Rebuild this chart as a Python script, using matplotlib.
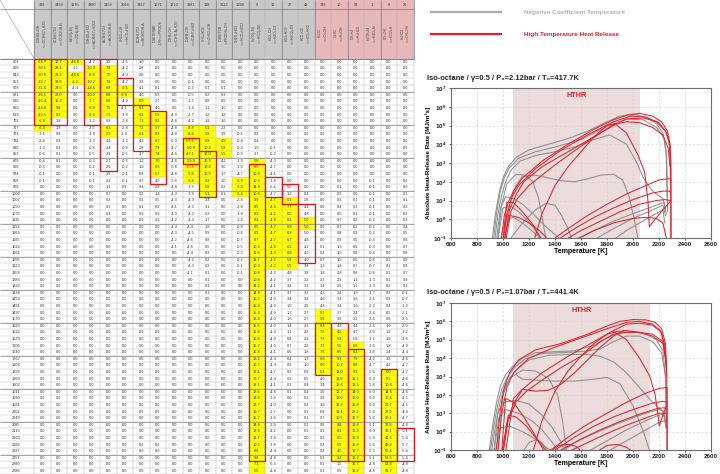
import numpy as np
import matplotlib
matplotlib.use("Agg")
import matplotlib.pyplot as plt
from matplotlib.patches import Rectangle
from matplotlib.ticker import FixedLocator, NullLocator, FuncFormatter

plt.rcParams['font.family'] = ['Liberation Sans', 'DejaVu Sans']
plt.rcParams['mathtext.fontset'] = 'custom'
plt.rcParams['mathtext.rm'] = 'Liberation Sans'
plt.rcParams['mathtext.bf'] = 'Liberation Sans:bold'

NROW = 63


def pad(vals, start=0):
    return [0.0] * start + vals + [0.0] * (NROW - start - len(vals))


# ---------------- sensitivity table ----------------
col_ids = ["339", "3459", "1176", "3390", "3458", "2068", "3457", "1071", "1213", "3381", "118",
           "3622", "1698", "9", "11", "27", "43", "339", "10", "34", "1", "8", "29"]
col_rxns = [("IC8H18+OH", "<=>CC8H17+H2O"), ("CC8H17O2", "<=>CC8OOH-B"), ("H2O2(+M)", "<=>2OH(+M)"),
            ("IC8H18+HO2", "<=>AC8H17+H2O2"), ("AC8H17O2", "<=>AC8OOH-B"), ("CH2O+OH", "<=>HCO+H2O"),
            ("BC8H17O2", "<=>BC8OOH-A"), ("IC8ETERAB", "+OH<=>PRODS"), ("C3H6+OH", "<=>C3H5-A+H2O"),
            ("IC4H8+OH", "<=>IC4H7+H2O"), ("CH3+HO2", "<=>CH3O+OH"), ("IC8KETCB", "=>PRODS+OH"),
            ("CH2O+HO2", "<=>HCO+H2O2"), ("H+O2(+M)", "<=>HO2(+M)"), ("HO2+OH", "<=>H2O+O2"),
            ("HO2+HO2", "<=>H2O2+O2"), ("HCO+O2", "<=>CO+HO2"), ("H+O2", "<=>O+OH"),
            ("O+H2", "<=>H+OH"), ("OH+H2", "<=>H+H2O"), ("H+OH+M", "<=>H2O+M"),
            ("CO+OH", "<=>CO2+H"), ("H+HO2", "<=>OH+OH")]
row_temps = [601, 628, 642, 651, 678, 681, 686, 693, 699, 703, 717, 761, 782, 830, 851, 879, 906, 934,
             958, 979, 1000, 1007, 1050, 1076, 1115, 1152, 1166, 1195, 1222, 1261, 1295, 1323, 1358,
             1383, 1422, 1446, 1453, 1491, 1497, 1570, 1583, 1622, 1670, 1706, 1740, 1767, 1808, 1834,
             1860, 1903, 1911, 1930, 1981, 2002, 2049, 2085, 2116, 2160, 2189, 2227, 2251, 2280, 2286]

v339 = pad([-63.7, -36.5, -30.8, -33.7, -31.6, -26.1, -46.4, -44.6, -43.5, -6.8, -6.3, -3.1, -2.4, -1.3,
            -0.8, -0.4, -0.3, -0.1, -0.1])
v3459 = pad([12.7, 28.1, 23.3, 39.6, 24.5, 22.0, 15.2, 9.8, 8.2, 1.8, 1.8, 0.8, 0.3, 0.2, 0.1, 0.1])
v1176 = pad([-46.8, 1.1, -44.6, -4.2, -4.4])
v3390 = pad([-4.2, -10.3, -8.8, -10.2, -18.6, -10.0, -7.7, -6.9, -8.4, -3.2, -2.5, -1.8, -1.3, -0.8,
             -0.5, -0.3, -0.2, -0.1, -0.1])
v3458 = pad([3.2, 7.8, 7.0, 7.8, 8.8, 8.8, 8.8, 7.5, 7.3, 6.8, 6.3, 5.1, 4.4, 3.4, 3.9, 2.7, 2.6, 2.3,
             2.1, 1.1, 0.7, 0.2, 0.1, 0.1])
v2068 = pad([-1.5, -4.2, -4.0, -4.7, -6.5, -6.6, -4.9, -4.1, -3.8, -2.4, -2.8, -1.4, -1.2, -0.8, -0.5,
             -0.3, -0.2, -0.1, -0.1, 0.1])
v3457 = pad([1.0, 2.8, 2.8, 3.3, 4.1, 4.6, 6.9, 6.1, 8.2, 7.1, 7.2, 6.1, 4.8, 2.8, 1.7, 1.2, 1.8, 0.8,
             0.7, 0.4, 0.2, 0.1, 0.1, 0.1])
v1071 = pad([0.1, 0.3, 2.7, 4.6, 5.9, 8.2, 9.7, 9.3, 8.7, 7.9, 7.4, 7.0, 6.6, 5.7, 4.2, 2.3, 1.4, 0.5,
             0.2, 0.1, 0.1], 4)
v1213 = pad([-4.3, -4.8, -4.8, -4.8, -6.0, -4.7, -4.6, -4.6, -6.8, -4.8, -3.8, -4.8, -4.3, -4.3, -4.1,
             -4.3, -4.2, -4.4, -4.3, -4.2, -4.1], 8)
v3381 = pad([-0.1, -0.2, -0.5, -1.5, -3.4, -2.7, -4.2, -8.8, -8.4, -63.1, -50.8, -47.1, -59.9, -13.5,
             -9.8, -9.8, -3.9, -1.9, -4.3, -4.3, -4.3, -4.3, -4.4, -4.5, -4.6, -4.6, -4.4, -4.2, -4.3,
             -4.1], 3)
v118 = pad([0.1, 0.2, 0.8, 1.1, 1.2, 1.8, 5.1, 5.8, 6.8, 10.2, 12.0, 12.3, 19.8, 10.9, 8.3, 5.8, 5.1,
            3.4, 3.1, 2.3, 1.7, 1.8, 0.9, 0.8, 0.5, 0.3, 0.2, 0.2, 0.1, 0.1, 0.1, 0.1], 4)
v3622 = pad([0.1, 0.3, 0.6, 1.0, 1.2, 1.6, 2.2, 3.9, 4.9, 5.9, 5.5, 4.2, 3.0, 1.7, 1.0, 0.2, 0.1], 4)
v1698 = pad([-0.1, -0.4, -0.4, -0.9, -1.9, -3.8, -4.7, -6.8, -6.3, -6.6, -2.8, -2.8, -1.8, -1.2, -0.8,
             -0.8, -0.7, -0.5, -0.3, -0.2, -0.1, -0.1], 11)
v9 = pad([0.2, 0.4, 1.9, 3.7, 5.6, 8.5, 10.8, 10.3, 14.8, 10.8, 9.9, 8.5, 8.2, 8.4, 8.5, 8.9, 9.7, 10.2,
          11.6, 11.7, 10.3, 10.8, 10.8, 14.2, 14.8, 15.2, 15.4, 15.4, 15.4, 15.5, 15.8, 15.8, 15.7,
          15.8, 16.2, 16.7, 17.1, 17.7, 18.1, 18.6, 18.8, 18.7, 16.7, 15.7, 14.6, 13.6, 11.7, 10.2,
          8.8, 8.8, 7.1, 5.5], 11)
v11 = pad([-0.1, -0.3, -4.3, -4.7, -4.1, -3.4, -6.1, -4.7, -4.7, -4.6, -4.2, -4.8, -4.7, -4.7, -4.7,
           -4.8, -4.3, -4.2, -4.2, -4.2, -4.2, -4.1, -4.1, -4.0, -4.0, -4.0, -4.0, -4.0, -4.0, -4.0,
           -4.0, -4.1, -4.4, -4.4, -4.7, -4.4, -4.1, -4.6, -3.6, -4.0, -2.7, -3.8, -3.9, -4.2, -3.4,
           -3.8, -4.4, -4.8, -6.3, -4.8], 13)
v27 = pad([1.2, 6.1, 7.7, 6.5, 6.1, 6.8, 6.8, 6.7, 6.2, 6.8, 5.8, 5.5, 4.8, 3.7, 3.4, 3.3, 3.4, 1.9, 1.7,
           1.6, 1.4, 1.1, 0.8, 0.7, 0.6, 0.4, 0.3, 0.2, 0.2, 0.1, 0.1], 20)
v43 = pad([0.4, 3.8, 4.4, 4.8, 5.0, 5.0, 5.0, 4.8, 4.2, 4.2, 4.0, 3.8, 3.8, 3.2, 3.1, 3.2, 3.1, 2.9, 2.7,
           2.7, 2.3, 2.2, 2.1, 2.0, 1.8, 1.3, 1.0, 0.9, 0.5, 0.4, 0.4, 0.3, 0.2, 0.1, 0.1, 0.1, 0.1], 20)
v339h = pad([0.1, 0.2, 0.7, 1.3, 1.8, 3.3, 3.4, 4.3, 4.6, 4.8, 5.2, 5.8, 6.4, 7.6, 7.2, 7.3, 7.6, 6.6,
             6.6, 5.3, 4.6, 3.4, 3.0, 2.9, 1.8, 0.9, 0.7, 0.6, 0.3, 0.3, 0.2, 0.2, 0.1, 0.1, 0.1], 28)
v10 = pad([0.1, 0.2, 0.3, 0.4, 0.5, 0.7, 0.7, 0.8, 0.9, 1.3, 1.3, 1.5, 1.8, 1.8, 2.2, 2.6, 2.4, 3.3, 3.4,
           3.7, 3.9, 4.2, 4.5, 5.3, 5.5, 8.5, 9.3, 10.2, 11.0, 11.9, 12.6, 12.7, 13.0, 12.2, 11.4, 10.5,
           8.8, 8.1, 6.5, 5.5, 4.5, 3.2, 1.5, 0.9], 19)
v34 = pad([0.1, 0.1, 0.1, 0.2, 0.2, 0.3, 0.5, 0.6, 0.8, 0.6, 0.7, 0.8, 1.1, 1.1, 1.3, 1.6, 1.6, 2.4, 3.2,
           4.4, 4.7, 5.9, 6.8, 6.4, 7.9, 8.8, 9.3, 11.1, 13.1, 14.0, 15.0, 15.8, 20.2, 20.7, 18.8, 16.9,
           16.9, 15.8, 16.7, 16.2, 15.7, 15.2], 21)
v1 = pad([-0.1, -0.1, -0.1, -0.1, -0.1, -0.1, -0.2, -0.2, -0.2, -0.3, -0.3, -0.4, -0.8, -0.7, -0.8, -1.3,
          -1.3, -1.7, -2.1, -2.3, -2.4, -2.6, -2.8, -2.9, -3.2, -3.6, -3.8, -4.2, -4.7, -5.6, -6.3,
          -5.8, -6.0, -6.0, -6.0, -5.8, -5.8, -6.1, -6.0, -5.8, -5.6, -5.3, -5.1, -4.8, -4.8], 18)
v8 = pad([0.1, 0.1, 0.1, 0.1, 0.2, 0.2, 0.3, 0.4, 0.5, 0.8, 1.0, 1.2, 1.8, 1.8, 2.4, 3.2, 4.2, 6.0, 8.1,
          10.8, 14.6, 17.4, 20.7, 27.9, 30.1, 32.8, 30.1, 41.5, 48.8, 50.4, 52.3, 54.4, 56.7], 30)
v29 = pad([0.1, 0.1, 0.2, 0.2, 0.3, 0.4, 0.5, 0.6, 0.7, 0.8, 0.9, 0.9, 0.7, 0.4, 0.1, -0.1, -0.7, -1.2,
           -2.1, -2.6, -2.9, -3.2, -3.6, -4.0, -4.4, -4.6, -4.7, -4.7, -4.6, -4.6, -4.6, -4.5, -4.5,
           -4.6, -4.7, -4.8, -5.1, -5.4, -5.7, -5.4, -5.4, -4.9, -4.8], 20)

table_cols = [v339, v3459, v1176, v3390, v3458, v2068, v3457, v1071, v1213, v3381, v118, v3622, v1698,
              v9, v11, v27, v43, v339h, v10, v34, v1, v8, v29]

# highlighted cells (column, first row, last row)
yellow_cells = [(0, 0, 10), (1, 0, 8), (2, 0, 0), (2, 2, 3), (3, 1, 8), (4, 1, 8), (4, 10, 11),
                (5, 4, 5), (6, 6, 11), (7, 8, 17), (9, 10, 18), (10, 10, 20), (11, 12, 14),
                (12, 18, 20), (13, 15, 62), (14, 21, 31), (15, 21, 31), (16, 24, 25), (17, 38, 47),
                (18, 41, 60), (19, 43, 62), (21, 47, 62)]
red_boxes = [(0, 0, 9), (1, 0, 9), (3, 0, 9), (4, 0, 16), (5, 3, 6), (6, 7, 13), (7, 8, 18),
             (9, 12, 15), (10, 14, 20), (13, 16, 60), (14, 18, 20), (15, 19, 21), (16, 22, 30),
             (17, 40, 47), (18, 40, 60), (19, 44, 60), (21, 47, 60), (22, 56, 60)]

# ---------------- heat-release curves (T [K], log10 HRR) ----------------
top_gray = [
    ([915, 940, 970, 1000, 1040, 1100, 1200, 1350, 1500, 1650, 1800, 1900, 2000, 2100, 2180, 2230, 2255, 2265],
     [-1.2, 0.2, 1.4, 2.2, 2.8, 3.3, 3.7, 4.0, 4.3, 4.7, 5.2, 5.5, 5.6, 5.45, 5.1, 4.6, 3.6, 0.6]),
    ([925, 950, 980, 1010, 1050, 1120, 1250, 1400, 1600, 1800, 1950, 2080, 2180, 2240, 2260, 2266],
     [-1.2, 0.3, 1.5, 2.2, 2.75, 3.25, 3.6, 3.85, 4.25, 4.95, 5.35, 5.3, 4.9, 4.3, 3.2, 0.4]),
    ([935, 960, 990, 1020, 1060, 1130, 1250, 1400, 1550, 1700, 1820, 1950, 2030, 2080, 2150, 2230, 2250],
     [-1.2, 0.2, 1.3, 2.0, 2.6, 3.1, 3.4, 3.6, 3.85, 4.25, 4.5, 4.0, 3.0, 2.2, 1.5, 1.1, 0.5]),
    ([1000, 1050, 1100, 1150, 1250, 1350, 1450, 1550, 1650, 1750, 1850, 1920, 1970, 2010, 2040],
     [-1.1, 0.8, 1.8, 2.3, 2.35, 2.2, 2.05, 2.0, 2.15, 2.35, 2.4, 2.1, 1.2, 0.0, -1.1]),
    ([960, 990, 1030, 1100, 1170, 1230, 1270, 1300, 1330],
     [-1.1, 0.8, 1.9, 2.4, 2.35, 2.0, 1.2, 0.2, -1.1]),
    ([950, 980, 1020, 1080, 1150, 1230, 1300, 1380, 1450],
     [-1.1, 0.6, 1.2, 1.1, 0.8, 0.3, -0.2, -0.7, -1.1]),
    ([960, 1000, 1060, 1120, 1180, 1240, 1290],
     [-1.1, 0.6, 0.7, 0.4, 0.0, -0.5, -1.1]),
    ([1050, 1150, 1250, 1330, 1400, 1450, 1500, 1530],
     [-1.1, -0.2, 0.5, 0.85, 0.75, 0.2, -0.5, -1.1]),
    ([980, 1020, 1080, 1150, 1220, 1300],
     [-1.1, 0.0, 0.1, -0.2, -0.6, -1.1]),
    ([1550, 1700, 1850, 2000, 2100, 2200, 2240, 2255],
     [-1.1, -0.6, -0.1, 0.3, 0.55, 0.8, 0.9, 0.3]),
    ([1700, 1850, 2000, 2150, 2230, 2250],
     [-1.1, -0.5, 0.05, 0.5, 0.75, 0.2]),
    ([1850, 1950, 2050, 2150, 2230, 2245],
     [-1.1, -0.6, -0.2, 0.2, 0.5, -0.2]),
]
top_red = [
    ([985, 1010, 1040, 1080, 1150, 1300, 1500, 1700, 1850, 1950, 2050, 2150, 2220, 2265, 2285, 2292, 2293],
     [-1.2, 0.2, 0.9, 1.5, 2.2, 3.1, 4.0, 4.8, 5.3, 5.55, 5.65, 5.5, 5.2, 4.7, 4.0, 3.0, -1.2]),
    ([1000, 1030, 1070, 1120, 1250, 1450, 1650, 1850, 1980, 2100, 2200, 2260, 2285, 2290],
     [-1.2, 0.3, 1.2, 1.8, 2.7, 3.7, 4.5, 5.2, 5.5, 5.45, 5.15, 4.6, 3.8, 2.0]),
    ([1010, 1050, 1100, 1160, 1300, 1500, 1700, 1850, 1950, 2080, 2180, 2250, 2280, 2290],
     [-1.2, 0.5, 1.3, 2.0, 2.8, 3.6, 4.4, 5.0, 5.35, 5.4, 5.2, 4.7, 4.1, 2.5]),
    ([1020, 1060, 1110, 1200, 1400, 1600, 1750, 1850, 1950, 2050, 2150, 2230, 2270, 2285],
     [-1.2, 0.4, 1.1, 1.8, 2.9, 3.9, 4.6, 5.05, 5.2, 5.15, 4.9, 4.5, 3.8, 2.8]),
    ([1240, 1300, 1400, 1500, 1600, 1700, 1800, 1860, 1950, 2040, 2090, 2115, 2125, 2170, 2230, 2280, 2292],
     [-1.1, 0.3, 1.8, 2.8, 3.6, 4.4, 5.0, 5.1, 4.6, 3.4, 2.5, 1.0, -0.4, 0.0, 0.5, 0.9, 1.0]),
    ([1380, 1500, 1650, 1800, 1950, 2100, 2200, 2260, 2290, 2291],
     [-1.1, -0.5, 0.2, 0.8, 1.35, 1.8, 2.1, 2.15, 2.15, -1.1]),
    ([1420, 1550, 1700, 1850, 2000, 2150, 2230, 2280, 2290],
     [-1.1, -0.5, 0.1, 0.6, 1.05, 1.4, 1.5, 1.5, 1.4]),
    ([1480, 1600, 1750, 1900, 2050, 2180, 2250, 2285],
     [-1.1, -0.6, -0.1, 0.4, 0.8, 1.0, 1.05, 1.0]),
    ([1560, 1700, 1850, 2000, 2100, 2180, 2230, 2260],
     [-1.1, -0.6, -0.2, 0.05, 0.1, 0.05, -0.2, -1.1]),
    ([1000, 1030, 1080, 1150, 1220, 1300],
     [-1.1, 0.9, 0.9, 0.4, -0.2, -1.1]),
    ([1010, 1050, 1120, 1200, 1280, 1350],
     [-1.1, 0.2, 0.1, -0.2, -0.6, -1.1]),
]
bot_gray = [
    ([890, 920, 950, 980, 1020, 1080, 1150, 1250, 1400, 1550, 1700, 1800, 1900, 2000, 2100, 2180, 2230, 2250, 2258],
     [-1.2, 0.3, 1.6, 2.5, 3.1, 3.6, 4.0, 4.3, 4.35, 4.4, 4.7, 5.1, 5.4, 5.45, 5.3, 5.0, 4.4, 3.0, 0.5]),
    ([900, 930, 960, 990, 1030, 1090, 1170, 1300, 1450, 1600, 1750, 1850, 1950, 2050, 2150, 2220, 2250, 2256],
     [-1.2, 0.3, 1.5, 2.3, 2.9, 3.5, 3.95, 4.25, 4.3, 4.35, 4.5, 4.9, 5.2, 5.2, 4.9, 4.3, 3.0, 0.8]),
    ([910, 940, 970, 1000, 1050, 1120, 1200, 1350, 1500, 1650, 1750, 1850, 1950, 2050, 2150, 2230, 2255],
     [-1.2, 0.2, 1.4, 2.2, 2.9, 3.5, 3.9, 4.15, 4.2, 4.2, 4.1, 3.8, 3.2, 2.4, 1.6, 1.1, 0.2]),
    ([960, 1000, 1050, 1150, 1250, 1350, 1420, 1460, 1490],
     [-1.1, 2.0, 2.9, 3.35, 3.3, 2.9, 2.0, 0.5, -1.1]),
    ([1100, 1150, 1250, 1400, 1550, 1700, 1800, 1900, 2000, 2080, 2130],
     [3.1, 2.85, 2.8, 2.75, 2.75, 2.85, 2.95, 2.6, 1.4, 0.0, -1.1]),
    ([930, 960, 1000, 1100, 1200, 1300, 1380, 1440, 1480],
     [-1.1, 1.0, 1.6, 1.7, 1.5, 0.9, 0.2, -0.5, -1.1]),
    ([930, 970, 1020, 1120, 1220, 1300, 1380, 1430],
     [-1.1, 0.8, 1.2, 1.0, 0.6, 0.1, -0.6, -1.1]),
    ([940, 980, 1050, 1150, 1250, 1320, 1380],
     [-1.1, 0.2, 0.3, 0.0, -0.4, -0.8, -1.1]),
    ([1150, 1200, 1260, 1300, 1350],
     [-1.1, -0.6, -0.4, -0.6, -1.1]),
    ([1650, 1800, 1950, 2100, 2200, 2240, 2255],
     [-1.1, -0.5, 0.1, 0.6, 0.9, 0.95, 0.2]),
    ([1800, 1950, 2100, 2200, 2245],
     [-1.1, -0.5, 0.1, 0.5, 0.6]),
    ([1450, 1550, 1700, 1850, 2000, 2120, 2200, 2240, 2255],
     [-1.1, -0.6, -0.1, 0.35, 0.75, 1.05, 1.2, 1.1, 0.3]),
]
bot_red = [
    ([945, 980, 1010, 1050, 1120, 1250, 1450, 1650, 1800, 1900, 2000, 2100, 2170, 2220, 2250, 2260, 2262],
     [-1.2, 1.2, 2.4, 3.2, 3.9, 4.45, 4.8, 5.3, 5.75, 6.0, 6.1, 6.08, 5.95, 5.6, 4.8, 3.0, -1.1]),
    ([960, 990, 1030, 1080, 1200, 1400, 1600, 1800, 1950, 2050, 2150, 2210, 2245, 2258],
     [-1.2, 1.0, 2.4, 3.2, 4.0, 4.6, 5.1, 5.6, 5.95, 6.0, 5.85, 5.5, 4.7, 3.0]),
    ([990, 1030, 1080, 1150, 1300, 1500, 1700, 1850, 1950, 2050, 2150, 2220, 2255],
     [-1.2, 0.5, 1.5, 2.3, 3.2, 4.1, 4.9, 5.5, 5.85, 5.9, 5.8, 5.4, 4.0]),
    ([1000, 1040, 1100, 1180, 1300, 1450, 1600, 1750, 1850, 1950, 2050, 2150, 2230, 2258],
     [-1.2, 0.6, 1.6, 2.2, 2.8, 3.5, 4.1, 4.9, 5.3, 5.4, 5.4, 5.3, 4.9, 3.5]),
    ([1230, 1300, 1400, 1500, 1600, 1700, 1800, 1880, 1950, 2050, 2150, 2230, 2256],
     [-1.1, 0.6, 2.2, 3.3, 4.1, 4.8, 5.3, 5.45, 5.5, 5.4, 5.2, 4.8, 3.8]),
    ([1020, 1080, 1150, 1250, 1350, 1450, 1550, 1650, 1750, 1850, 1930],
     [-1.1, 1.8, 2.3, 2.2, 2.25, 2.6, 3.2, 3.9, 4.6, 5.2, 5.5]),
    ([1850, 1950, 2050, 2130, 2170, 2195, 2202, 2225, 2250, 2262],
     [5.45, 5.0, 4.0, 3.0, 2.0, 0.8, 0.3, 0.8, 1.3, 1.5]),
    ([1350, 1500, 1650, 1800, 1950, 2100, 2200, 2250, 2262, 2263],
     [-1.1, -0.3, 0.4, 1.0, 1.6, 2.1, 2.35, 2.4, 2.4, -1.1]),
    ([1380, 1550, 1700, 1850, 2000, 2150, 2230, 2262],
     [-1.1, -0.3, 0.3, 0.8, 1.2, 1.55, 1.65, 1.6]),
    ([1420, 1600, 1750, 1900, 2050, 2180, 2240, 2262],
     [-1.1, -0.4, 0.1, 0.55, 0.95, 1.25, 1.3, 1.2]),
    ([1500, 1650, 1800, 1950, 2100, 2200, 2250],
     [-1.1, -0.6, -0.1, 0.35, 0.75, 1.0, 1.0]),
    ([1360, 1430, 1500, 1560, 1610],
     [-1.1, -0.75, -0.7, -0.8, -1.1]),
    ([1720, 1800, 1880, 1950, 2000],
     [-1.1, -0.75, -0.7, -0.85, -1.1]),
    ([990, 1020, 1080, 1150, 1230, 1320],
     [-1.1, 1.8, 1.6, 0.9, 0.0, -1.1]),
    ([1000, 1040, 1100, 1180, 1260, 1340],
     [-1.1, 0.9, 0.8, 0.3, -0.4, -1.1]),
]
top_hthr = (1080, 2050)
bot_hthr = (1080, 2130)

# ---------------- figure ----------------
fig = plt.figure(figsize=(7.2, 4.74), dpi=100)
bg = fig.add_axes([0, 0, 1, 1])
bg.set_xlim(0, 720)
bg.set_ylim(474, 0)
bg.axis('off')

X0, CW = 34.0, 16.5
Y0, RH = 58.5, 6.6
ncol = len(col_ids)
XR = X0 + ncol * CW
YB = Y0 + NROW * RH

for c in range(ncol):
    fc = '#e8b7ba' if c >= 17 else '#c8c8c8'
    bg.add_patch(Rectangle((X0 + c * CW, 0), CW, Y0, fc=fc, ec='none', zorder=1))
    cx = X0 + (c + 0.5) * CW
    bg.text(cx, 4.6, col_ids[c], fontsize=2.8, ha='center', va='center', color='#333', zorder=5)
    top, bot = col_rxns[c]
    bg.text(cx - 3.0, 33, top, fontsize=2.4, rotation=90, ha='center', va='center', color='#444', zorder=5)
    bg.text(cx + 3.0, 33, bot, fontsize=2.4, rotation=90, ha='center', va='center', color='#444', zorder=5)

for c, r0, r1 in yellow_cells:
    bg.add_patch(Rectangle((X0 + c * CW, Y0 + r0 * RH), CW, (r1 - r0 + 1) * RH,
                           fc='#ffff00', ec='none', zorder=1))

# grid lines
ys = Y0 + np.arange(NROW + 1) * RH
bg.hlines(ys, 0, XR, colors='#b4b4b4', lw=0.3, zorder=2)
bg.hlines(ys[::5], 0, XR, colors='#7a7a7a', lw=0.45, zorder=2)
bg.hlines([9.0, Y0], 0, XR, colors='#7a7a7a', lw=0.5, zorder=2)
xs = X0 + np.arange(ncol + 1) * CW
bg.vlines(xs, 0, YB, colors='#a8a8a8', lw=0.3, zorder=2)
grp = [0, 1, 2, 3, 4, 5, 6, 7, 8, 9, 10, 11, 12, 13, 15, 17, 19, 21, 23]
bg.vlines(X0 + np.array(grp) * CW, 0, Y0, colors='#7a7a7a', lw=0.45, zorder=2)
bg.plot([0, X0], [0, Y0], color='#999999', lw=0.4, zorder=2)

for c, r0, r1 in red_boxes:
    bg.add_patch(Rectangle((X0 + c * CW, Y0 + r0 * RH), CW, (r1 - r0 + 1) * RH,
                           fill=False, ec='#e3141c', lw=0.9, zorder=4))

for r, t in enumerate(row_temps):
    bg.text(16, Y0 + (r + 0.5) * RH, str(t), fontsize=2.8, ha='center', va='center', color='#333', zorder=5)
for c, vals in enumerate(table_cols):
    for r, v in enumerate(vals):
        bg.text(X0 + (c + 0.5) * CW, Y0 + (r + 0.5) * RH, f"{v:.1f}", fontsize=2.8,
                ha='center', va='center', color='#333', zorder=5)

# legend
bg.plot([430, 502], [12, 12], color='#ababab', lw=1.6, solid_capstyle='butt')
bg.plot([430, 502], [34, 34], color='#e0202a', lw=1.6, solid_capstyle='butt')
bg.text(524, 12, 'Negative Coefficient Temperature', fontsize=4.6, fontweight='bold',
        color='#b4b4b4', va='center')
bg.text(524, 34, 'High Temperature Heat Release', fontsize=4.6, fontweight='bold',
        color='#e3202a', va='center')

bg.text(427, 78, 'Iso-octane / γ=0.5 / P₀=2.12bar / T₀=417.7K', fontsize=5.4, fontweight='bold',
        color='#222', va='center')
bg.text(427, 292, 'Iso-octane / γ=0.5 / P₀=1.07bar / T₀=441.4K', fontsize=5.4, fontweight='bold',
        color='#222', va='center')


def hrr_panel(rect, hthr, gray, red):
    ax = fig.add_axes(rect)
    ax.axvspan(hthr[0], hthr[1], color='#ecdcdc', lw=0, zorder=0)
    for T, L in gray:
        ax.plot(T, 10.0 ** np.array(L), color='#8e8e8e', lw=0.75, zorder=2)
    for T, L in red:
        ax.plot(T, 10.0 ** np.array(L), color='#e2232b', lw=0.75, zorder=3)
    ax.set_yscale('log')
    ax.set_xlim(600, 2600)
    ax.set_ylim(0.1, 1e7)
    ax.xaxis.set_major_locator(FixedLocator(np.arange(600, 2601, 200)))
    ax.yaxis.set_major_locator(FixedLocator(10.0 ** np.arange(-1, 8)))
    ax.yaxis.set_minor_locator(NullLocator())
    ax.yaxis.set_major_formatter(FuncFormatter(lambda y, p: r'$\mathbf{10^{%d}}$' % round(np.log10(y))))
    ax.grid(True, ls=(0, (3, 3)), color='#d2d2d2', lw=0.5)
    ax.set_axisbelow(True)
    ax.tick_params(labelsize=4.6, length=1.5, width=0.5, pad=1.5, colors='#222')
    for lbl in ax.get_xticklabels():
        lbl.set_fontweight('bold')
    for s in ax.spines.values():
        s.set_color('#6e6e6e')
        s.set_linewidth(0.8)
    ax.set_xlabel('Temperature [K]', fontsize=5, fontweight='bold', labelpad=0.5)
    ax.set_ylabel('Absolute Heat-Release Rate [MJ/m³s]', fontsize=4.6, fontweight='bold', labelpad=1)
    ax.text(sum(hthr) / 2, 10 ** 6.6, 'HTHR', fontsize=5.2, fontweight='bold', color='#e3202a',
            ha='center', va='center')
    return ax


hrr_panel([451 / 720, 1 - 238 / 474, 260 / 720, 150 / 474], top_hthr, top_gray, top_red)
hrr_panel([451 / 720, 1 - 450 / 474, 260 / 720, 147 / 474], bot_hthr, bot_gray, bot_red)

fig.savefig('out.png', dpi=100)
